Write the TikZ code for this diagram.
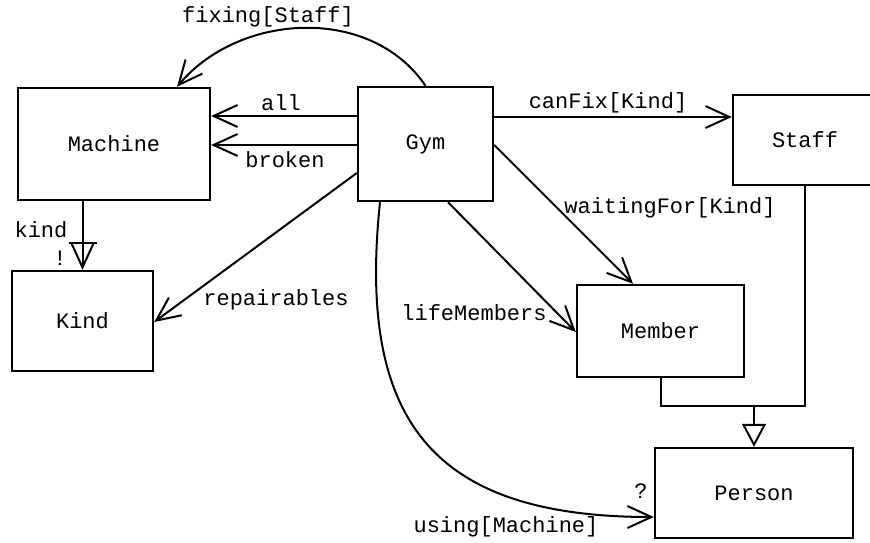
\documentclass[tikz,border=0pt]{standalone}
\usepackage{fontspec}
\setmainfont{Liberation Mono}
\usepackage{tikz}
\usetikzlibrary{arrows.meta}
\newlength\pxunit
\setlength\pxunit{0.5pt}

\begin{document}
\begin{tikzpicture}[x=1\pxunit,y=-1\pxunit,font=\fontsize{11pt}{13pt}\selectfont,line width=1pt,
  cls/.style 2 args={draw,line width=1.2pt,minimum width=#1\pxunit,minimum height=#2\pxunit,inner sep=0pt},
  rel/.style={-{Straight Barb[length=12pt,width=11pt]}},
  lbl/.style={inner sep=0pt}]
\useasboundingbox (0,0) rectangle (870,542);
% signatures
\foreach \n/\x/\y/\w/\h in %
{Machine/114/144/192/112,Gym/425.5/144/135/114,Staff/805/140/144/90,
 Kind/82.5/321/141/100,Member/660.5/331/167/92,Person/754/493/198/90} {
   \node[cls={\w}{\h}] (\n) at (\x,\y) {\n};
}
% relations
\draw[rel] (Gym.north) to[out=124,in=50] (Machine.north -| 177,0);
\draw[rel] (Gym.west |- 0,116) -- (Machine.east |- 0,116);
\draw[rel] (Gym.west |- 0,145) -- (Machine.east |- 0,145);
\draw[rel] (Gym.east |- 0,117) -- (Staff.west |- 0,117);
\draw[rel] (Gym.east |- 0,145) -- (Member.north -| 633,0);
\draw[rel] (Gym.south -| 448,0) -- (Member.west |- 0,332);
\draw[rel] (Gym.west |- 0,173) -- (Kind.east |- 0,322);
\draw[rel] (Gym.south -| 380,0) to[out=-96,in=180,looseness=1.35] (Person.west |- 0,517);
\draw[rel] (Kind.north |- Machine.south) -- (Kind.north);
\coordinate (kbar) at (Kind.north |- 0,243);
\draw ([xshift=-7pt]kbar) -- ([xshift=7pt]kbar);
% extends
\coordinate (gen) at (Person.north |- 0,406);
\draw (Member.south) |- (Staff.south |- gen) -- (Staff.south);
\draw[-{Triangle[open,length=11.5pt,width=12pt]}] (gen) -- (Person.north);
% labels
\foreach \n/\x/\y/\txt in %
{lfix/268/17/fixing[Staff],lall/281/103/all,lbroken/285/160/broken,
 lcanfix/608/103/canFix[Kind],lwait/670/208/waitingFor[Kind],
 llife/474/313/lifeMembers,lrep/276/300/repairables,
 lusing/506/527/using[Machine],lopt/641/491/?,lkind/41/230/kind,lone/60/258/!} {
   \node[lbl] (\n) at (\x,\y) {\txt};
}
\end{tikzpicture}
\end{document}
